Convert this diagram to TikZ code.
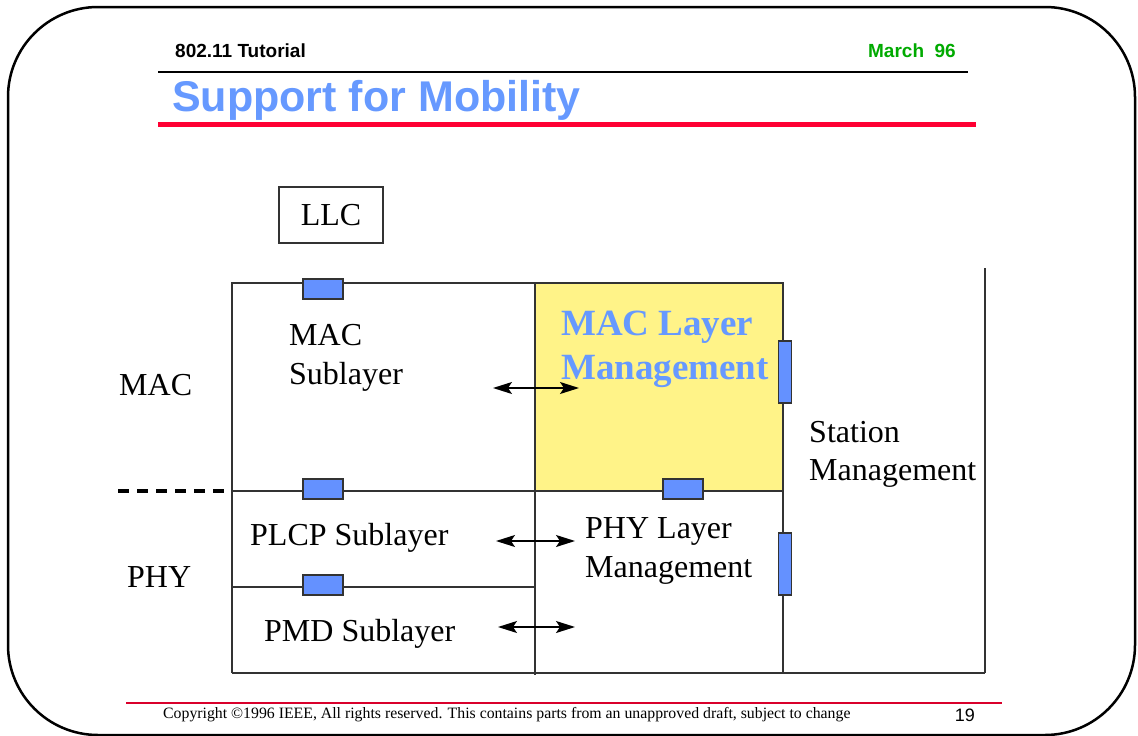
\documentclass[tikz,border=0pt]{standalone}
\usepackage{fontspec}
\setmainfont{Liberation Serif}
\setsansfont{Liberation Sans}
\usetikzlibrary{arrows.meta}
\definecolor{titleblue}{RGB}{102,153,255}
\definecolor{portblue}{RGB}{100,145,255}
\definecolor{mgmtyellow}{RGB}{255,243,136}
\definecolor{dategreen}{RGB}{0,170,0}
\definecolor{rulered}{RGB}{255,0,51}
\tikzset{
  port/.style={draw=black!80,fill=portblue,line width=1.2pt,inner sep=0pt,minimum width=40pt,minimum height=20pt},
  vport/.style={port,minimum width=13pt,minimum height=62pt},
  grid/.style={draw=black!80,line width=1.3pt},
  txt/.style={anchor=base west,inner sep=0pt,font=\fontsize{32}{38}\selectfont},
  boldtxt/.style={txt,text=titleblue,font=\fontsize{37}{44}\selectfont\bfseries},
  both/.style={{Stealth[length=19pt,width=12pt,inset=4pt]}-{Stealth[length=19pt,width=12pt,inset=4pt]},line width=1.5pt}
}
\begin{document}
\begin{tikzpicture}[x=1pt,y=-1pt]
  \useasboundingbox (0,0) rectangle (1138,736);
  % slide frame
  \draw[line width=2.5pt,rounded corners=90pt] (8,7) rectangle (1135,735);
  % header
  \node (hdr) at (175,57) [anchor=base west,inner sep=0pt,font=\fontsize{19}{21}\selectfont\sffamily\bfseries] {802.11 Tutorial};
  \node (date) at (956,57) [anchor=base east,inner sep=0pt,text=dategreen,font=\fontsize{19}{21}\selectfont\sffamily\bfseries] {March\ \ 96};
  \draw[line width=1.5pt] (158,72) to (968,72);
  \node (title) at (172,111) [anchor=base west,inner sep=0pt,text=titleblue,font=\fontsize{43}{48}\selectfont\sffamily\bfseries] {Support for Mobility};
  \draw[rulered,line width=5pt] (158,124) to (976,124);
  % LLC
  \node (llc) at (331,215) [draw=black!80,line width=1.3pt,minimum width=104pt,minimum height=56pt,font=\fontsize{32}{38}\selectfont] {LLC};
  % layer grid
  \fill[mgmtyellow] (535,283) rectangle (783,491);
  \draw[grid] (232,673) to (232,283) to (783,283) to (783,673);
  \draw[grid] (232,673) to (985,673);
  \draw[grid] (535,283) to (535,675);
  \draw[grid] (985,268) to (985,673);
  \draw[grid] (232,491) to (783,491);
  \draw[grid] (232,587) to (535,587);
  \draw[line width=3.3pt,dash pattern=on 11pt off 8pt] (118,491) to (232,491);
  % interface points
  \node (sapllc) at (323,289) [port] {};
  \node (sapmac) at (323,489) [port] {};
  \node (sapmlme) at (683,489) [port] {};
  \node (sapplcp) at (323,585) [port] {};
  \node (sapsme) at (785,372) [vport] {};
  \node (sapplme) at (785,564) [vport] {};
  % labels
  \node (mac) at (119,395) [txt] {MAC};
  \node (phy) at (127,587) [txt] {PHY};
  \node (macsub) at (289,345) [txt] {MAC};
  \node (macsubb) at (289,384) [txt] {Sublayer};
  \node (mlme) at (561,335) [boldtxt] {MAC Layer};
  \node (mlmeb) at (561,379) [boldtxt] {Management};
  \node (sme) at (809,442) [txt] {Station};
  \node (smeb) at (809,480) [txt] {Management};
  \node (plcp) at (250,545) [txt] {PLCP Sublayer};
  \node (plme) at (585,538) [txt] {PHY Layer};
  \node (plmeb) at (585,577) [txt] {Management};
  \node (pmd) at (264,641) [txt] {PMD Sublayer};
  % arrows
  \coordinate (a1) at (493,388);
  \coordinate (b1) at (579,388);
  \coordinate (a2) at (496,541);
  \coordinate (b2) at (575,541);
  \coordinate (a3) at (498,627);
  \coordinate (b3) at (575,627);
  \draw[both] (a1) to (b1);
  \draw[both] (a2) to (b2);
  \draw[both] (a3) to (b3);
  % footer
  \draw[rulered!85!black,line width=1.2pt] (126,703) to (1002,703);
  \node (copy) at (163,718) [anchor=base west,inner sep=0pt,font=\fontsize{15.8}{17}\selectfont] {Copyright \textcopyright1996 IEEE, All rights reserved. This contains parts from an unapproved draft, subject to change};
  \node (page) at (975,721) [anchor=base east,inner sep=0pt,font=\fontsize{18}{20}\selectfont\sffamily] {19};
\end{tikzpicture}
\end{document}
